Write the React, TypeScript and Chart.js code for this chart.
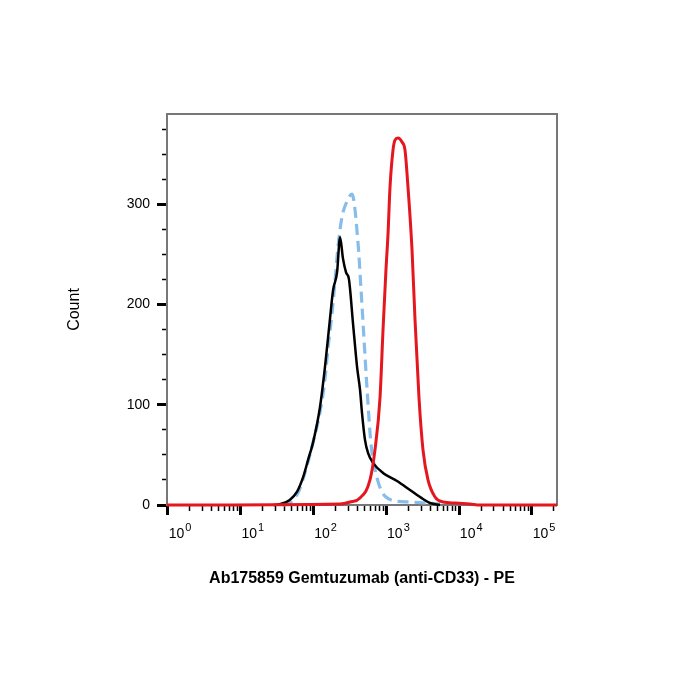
import React, { useEffect, useRef } from 'react';
import { Chart, registerables } from 'chart.js';

Chart.register(...registerables);

const FONT = "'Liberation Sans', Arial, Helvetica, sans-serif";

// Axis definitions
const xDecades = [1, 10, 100, 1000, 10000, 100000];
const xTickBase = '10';
const xTickExponents = ['0', '1', '2', '3', '4', '5'];
const xMin = 0.969;
const xMax = 220500;
const yTickValues = [0, 100, 200, 300];
const yTickLabels = ['0', '100', '200', '300'];
const yMinorStep = 25;
const yMax = 390;

const xTitle = 'Ab175859 Gemtuzumab (anti-CD33) - PE';
const yTitle = 'Count';

// Black solid histogram
const blackX = [28, 35, 47, 59, 72, 84, 98, 122, 143, 168, 185, 210, 231, 253, 279, 306, 348, 395, 434, 462, 508, 559, 655, 898, 1400, 2110, 3180, 3970, 5450];
const blackY = [0, 1, 5, 13, 28, 45, 62, 97, 137, 186, 214, 232, 267, 246, 232, 225, 181, 138, 115, 92, 65, 52, 42, 32, 24, 15, 6, 2, 0];

// Light-blue dashed histogram
const blueX = [37, 44.5, 52, 63, 76, 98, 122, 143, 158, 179, 197, 216, 245, 288, 337, 407, 448, 492, 542, 614, 720, 843, 987, 1313, 2110, 3390, 5450];
const blueY = [0, 1, 5, 14, 32, 62, 92, 125, 157, 191, 224, 257, 287, 303, 310, 262, 215, 166, 116, 61, 31, 15, 8, 4, 3, 2, 1];

// Red histogram
const redX = [0.969, 231, 316, 434, 595, 697, 817, 898, 987, 1052, 1121, 1232, 1313, 1443, 1638, 1801, 1980, 2247, 2471, 2804, 3182, 3727, 4652, 5990, 8757, 14075, 19307, 220500];
const redY = [0, 1, 3, 7, 25, 55, 107, 174, 235, 270, 317, 354, 364, 366, 362, 354, 317, 255, 185, 107, 55, 25, 8, 3, 2, 1, 0, 0];

const toPoints = (xs: number[], ys: number[]) => xs.map((x, i) => ({ x, y: ys[i] }));

const isDecade = (v: any) => typeof v === 'number' && xDecades.some((d) => Math.abs(d - v) < d * 1e-6);

function buildXTicks(): number[] {
  const out: number[] = [];
  for (let i = 0; i < xDecades.length; i++) {
    const d = xDecades[i];
    out.push(d);
    for (let k = 2; k <= 9; k++) {
      if (k * d <= xMax) out.push(k * d);
    }
  }
  return out;
}

function buildYTicks(): number[] {
  const out: number[] = [];
  for (let v = 0; v <= yMax; v += yMinorStep) out.push(v);
  return out;
}

// Draws the decade labels (10 with a superscript exponent) under the x scale ticks
const powerLabels = {
  id: 'powerLabels',
  afterDraw(chart: any) {
    const scale = chart.scales.x;
    if (!scale) return;
    const ctx = chart.ctx;
    ctx.save();
    ctx.fillStyle = '#000';
    ctx.textBaseline = 'alphabetic';
    ctx.textAlign = 'left';
    const baseFont = `14px ${FONT}`;
    const expFont = `11px ${FONT}`;
    const baseY = scale.top + 33;
    const expY = baseY - 7;
    xDecades.forEach((d, i) => {
      const px = scale.getPixelForValue(d) + 12;
      ctx.font = baseFont;
      const wb = ctx.measureText(xTickBase).width;
      ctx.font = expFont;
      const we = ctx.measureText(xTickExponents[i]).width;
      const start = px - (wb + we + 1) / 2;
      ctx.font = baseFont;
      ctx.fillText(xTickBase, start, baseY);
      ctx.font = expFont;
      ctx.fillText(xTickExponents[i], start + wb + 1, expY);
    });
    ctx.restore();
  },
};

export default function App() {
  const ref = useRef<HTMLCanvasElement | null>(null);

  useEffect(() => {
    if (!ref.current) return;
    const xTicks = buildXTicks();
    const yTicks = buildYTicks();
    const common = {
      pointRadius: 0,
      pointHoverRadius: 0,
      fill: false,
      cubicInterpolationMode: 'monotone' as const,
      clip: { left: 0, right: 0, top: 0, bottom: 6 },
    };
    const chart = new Chart(ref.current, {
      type: 'line',
      plugins: [powerLabels],
      data: {
        datasets: [
          { ...common, label: 'red', data: toPoints(redX, redY), borderColor: '#E3171D', borderWidth: 3 },
          { ...common, label: 'black', data: toPoints(blackX, blackY), borderColor: '#000000', borderWidth: 2.5 },
          { ...common, label: 'blue', data: toPoints(blueX, blueY), borderColor: '#86BDEB', borderWidth: 3.2, borderDash: [11, 6] },
        ],
      },
      options: {
        responsive: false,
        maintainAspectRatio: false,
        devicePixelRatio: 1,
        animation: false,
        layout: { padding: { left: 0, right: 143, top: 114, bottom: 0 } },
        plugins: { legend: { display: false }, tooltip: { enabled: false }, title: { display: false } },
        events: [],
        scales: {
          x: {
            type: 'logarithmic',
            position: 'bottom',
            min: xMin,
            max: xMax,
            afterBuildTicks: (s: any) => {
              s.ticks = xTicks.map((v) => ({ value: v }));
            },
            afterFit: (s: any) => {
              s.height = 195;
            },
            ticks: {
              autoSkip: false,
              maxRotation: 0,
              minRotation: 0,
              padding: 8,
              color: '#000',
              font: { family: FONT, size: 13 },
              callback: () => '',
            },
            grid: {
              drawOnChartArea: false,
              drawTicks: true,
              tickLength: 10,
              tickColor: '#000',
              tickWidth: (c: any) => (isDecade(c.tick?.value) ? 3 : 1.5),
              tickBorderDash: (c: any) => (isDecade(c.tick?.value) ? [] : [5, 100]),
            },
            border: { color: '#777', width: 2 },
            title: {
              display: true,
              text: xTitle,
              color: '#000',
              font: { family: FONT, size: 16, weight: 'bold' },
              padding: { top: 0, bottom: 112 },
            },
          },
          y: {
            type: 'linear',
            position: 'left',
            min: 0,
            max: yMax,
            afterBuildTicks: (s: any) => {
              s.ticks = yTicks.map((v) => ({ value: v }));
            },
            afterFit: (s: any) => {
              s.width = 167;
            },
            ticks: {
              autoSkip: false,
              padding: 7,
              color: '#000',
              font: { family: FONT, size: 14 },
              callback: (v: any) => {
                const i = yTickValues.indexOf(v);
                return i >= 0 ? yTickLabels[i] : '';
              },
            },
            grid: {
              drawOnChartArea: false,
              drawTicks: true,
              tickLength: 10,
              tickColor: '#000',
              tickWidth: (c: any) => (yTickValues.includes(c.tick?.value) ? 3 : 1.5),
              tickBorderDash: (c: any) => (yTickValues.includes(c.tick?.value) ? [] : [0, 5, 5, 100]),
            },
            border: { color: '#777', width: 2 },
            title: {
              display: true,
              text: yTitle,
              color: '#000',
              font: { family: FONT, size: 16 },
              padding: { top: 65, bottom: 0 },
            },
          },
          xTop: {
            type: 'linear',
            position: 'top',
            min: 0,
            max: 1,
            afterFit: (s: any) => {
              s.height = 0;
            },
            ticks: { display: false },
            grid: { display: false, drawTicks: false },
            border: { color: '#777', width: 2 },
          },
          yRight: {
            type: 'linear',
            position: 'right',
            min: 0,
            max: 1,
            afterFit: (s: any) => {
              s.width = 0;
            },
            ticks: { display: false },
            grid: { display: false, drawTicks: false },
            border: { color: '#777', width: 2 },
          },
        },
      } as any,
    });
    return () => chart.destroy();
  }, []);

  return (
    <div style={{ position: 'fixed', left: 0, top: 0, width: 700, height: 700, background: '#fff' }}>
      <canvas ref={ref} width={700} height={700} style={{ display: 'block', width: 700, height: 700 }} />
    </div>
  );
}
